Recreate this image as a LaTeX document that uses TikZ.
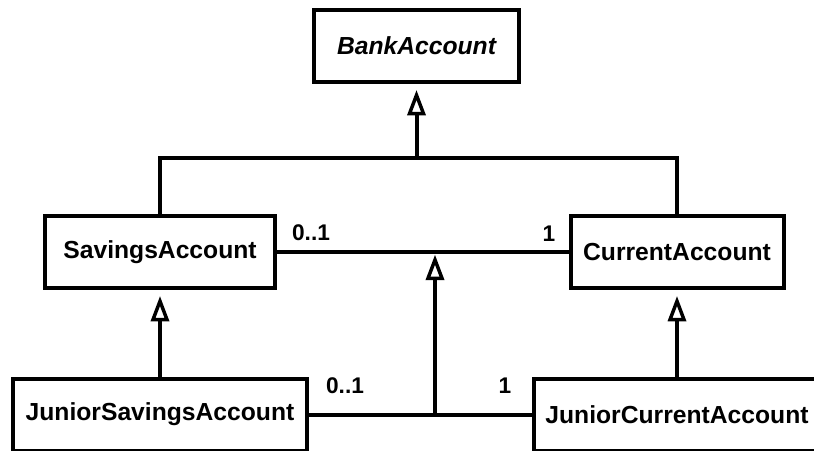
\documentclass[tikz,border=0pt]{standalone}
\usepackage{fontspec}
\setmainfont{Liberation Sans}
\usetikzlibrary{arrows.meta}
\tikzset{
  cls/.style={draw=black, line width=3pt, fill=white, inner sep=0pt, font=\bfseries\fontsize{18.5}{22}\selectfont},
  conn/.style={line width=3pt, line cap=butt},
  inh/.style={conn, -{Triangle[open, length=19pt, width=13.5pt, line width=2.6pt]}},
  mult/.style={inner sep=0pt, font=\bfseries\fontsize{17}{20}\selectfont}
}
\begin{document}
\begin{tikzpicture}[x=0.75pt, y=-0.75pt]
\useasboundingbox (0,0) rectangle (814,450);
\clip (0,0) rectangle (814,450);
\node[cls, minimum width=153.75pt, minimum height=54pt] (bank) at (416.5,46) {\itshape BankAccount};
\node[cls, minimum width=172.5pt, minimum height=54pt] (sav) at (160,252) {SavingsAccount};
\node[cls, minimum width=159.75pt, minimum height=54pt] (cur) at (677,252) {CurrentAccount};
\node[cls, minimum width=220.5pt, minimum height=54pt] (jsav) at (160,414.5) {JuniorSavingsAccount};
\node[cls, minimum width=214.5pt, minimum height=54pt] (jcur) at (677,414.5) {JuniorCurrentAccount};
% generalization tree
\coordinate (hl) at (160,158);
\coordinate (hr) at (677,158);
\coordinate (hm) at (416.5,158);
\draw[conn] (sav.north) -- (hl) -- (hr) -- (cur.north);
\draw[inh, shorten >=4.5pt] (hm) -- (bank.south);
% associations
\draw[conn] (sav.east) -- (cur.west);
\draw[conn] (jsav.east) -- (jcur.west);
\coordinate (am) at (435,252);
\coordinate (bm) at (435,414.5);
\draw[inh, shorten >=2pt] (bm) -- (am);
\draw[inh, shorten >=4.5pt] (jsav.north) -- (sav.south);
\draw[inh, shorten >=4.5pt] (jcur.north) -- (cur.south);
% multiplicities
\node[mult] (m1) at (311,233) {0..1};
\node[mult] (m2) at (549,234) {1};
\node[mult] (m3) at (345,386) {0..1};
\node[mult] (m4) at (505,386) {1};
\end{tikzpicture}
\end{document}
